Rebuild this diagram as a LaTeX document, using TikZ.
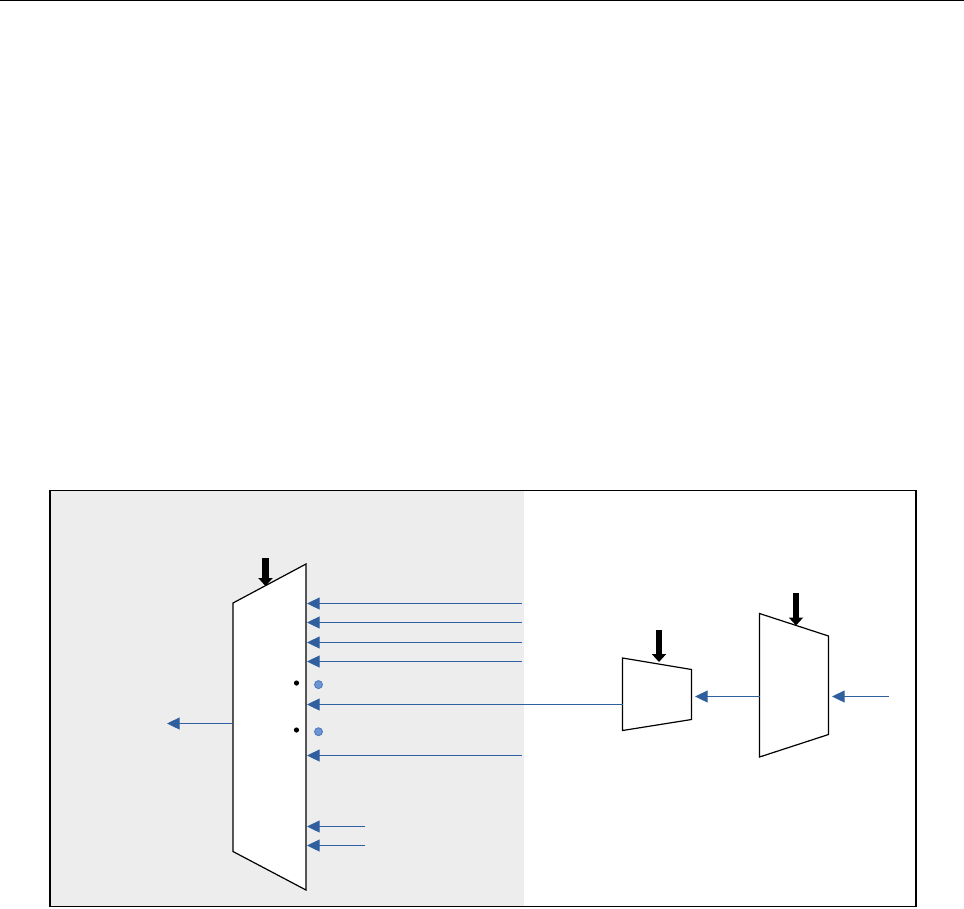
\documentclass[tikz,border=0pt]{standalone}
\usetikzlibrary{arrows.meta}
\definecolor{panelgray}{HTML}{EDEDED}
\definecolor{wireblue}{HTML}{2F5F9F}
\definecolor{dotfill}{HTML}{6C95D2}
\definecolor{dotline}{HTML}{4A78BC}
\tikzset{
  x=0.75pt,y=-0.75pt,
  muxbox/.style={draw=black,fill=white,line width=0.9pt,line join=miter},
  wire/.style={draw=wireblue,line width=0.8pt,-{Triangle[length=9.5pt,width=9pt,fill=wireblue]}},
  selarrow/.style={draw=black,line width=5.2pt,-{Triangle[length=6pt,width=10.5pt,fill=black]},shorten >=0pt},
  blackdot/.style={circle,fill=black,inner sep=0pt,minimum size=3.9pt},
  bluedot/.style={circle,fill=dotfill,draw=dotline,line width=0.6pt,inner sep=0pt,minimum size=6pt},
}
\begin{document}
\begin{tikzpicture}
\useasboundingbox (0,0) rectangle (964,908);
\draw[black,line width=1pt] (0,0.6) -- (964,0.6);
\fill[panelgray] (50,490.5) rectangle (524,906.5);
\draw[black,line width=1pt] (50,490.5) rectangle (916,906.8);
% multiplexers
\filldraw[muxbox] (233,603) coordinate (aTL) -- (306,564) coordinate (aTR) -- (306,890) coordinate (aBR) -- (233,851.5) coordinate (aBL) -- cycle;
\filldraw[muxbox] (622.5,658) coordinate (bTL) -- (691.5,669.5) coordinate (bTR) -- (691.5,719.5) coordinate (bBR) -- (622.5,730.5) coordinate (bBL) -- cycle;
\filldraw[muxbox] (759.5,613.5) coordinate (cTL) -- (828.5,636) coordinate (cTR) -- (828.5,734.5) coordinate (cBR) -- (759.5,757) coordinate (cBL) -- cycle;
% named wire ends
\foreach \n/\y in {i1/603.5,i2/622.5,i3/642.5,i4/661.5,i6/755.5}{
  \coordinate (\n) at (522,\y);
  \coordinate (\n t) at (307,\y);
  \draw[wire] (\n) -- (\n t);
}
\coordinate (i7) at (365,826.5); \coordinate (i7t) at (307,826.5); \draw[wire] (i7) -- (i7t);
\coordinate (i8) at (365,845.5); \coordinate (i8t) at (307,845.5); \draw[wire] (i8) -- (i8t);
\coordinate (i5) at (622.5,704.5); \coordinate (i5t) at (307,704.5); \draw[wire] (i5) -- (i5t);
\coordinate (o1) at (233,723.5); \coordinate (o1t) at (167,723.5); \draw[wire] (o1) -- (o1t);
\coordinate (m1) at (759.5,696.5); \coordinate (m1t) at (695,696.5); \draw[wire] (m1) -- (m1t);
\coordinate (m2) at (889,696.5); \coordinate (m2t) at (832,696.5); \draw[wire] (m2) -- (m2t);
% select arrows
\coordinate (s1) at (265.5,558); \coordinate (s1t) at (265.5,586); \draw[selarrow] (s1) -- (s1t);
\coordinate (s2) at (659,630); \coordinate (s2t) at (659,662); \draw[selarrow] (s2) -- (s2t);
\coordinate (s3) at (796,593); \coordinate (s3t) at (796,625.5); \draw[selarrow] (s3) -- (s3t);
% dots
\node[blackdot] (d1) at (296.5,683) {};
\node[blackdot] (d2) at (296.5,730) {};
\node[bluedot] (d3) at (318.5,684.6) {};
\node[bluedot] (d4) at (318.5,731.7) {};
\end{tikzpicture}
\end{document}
